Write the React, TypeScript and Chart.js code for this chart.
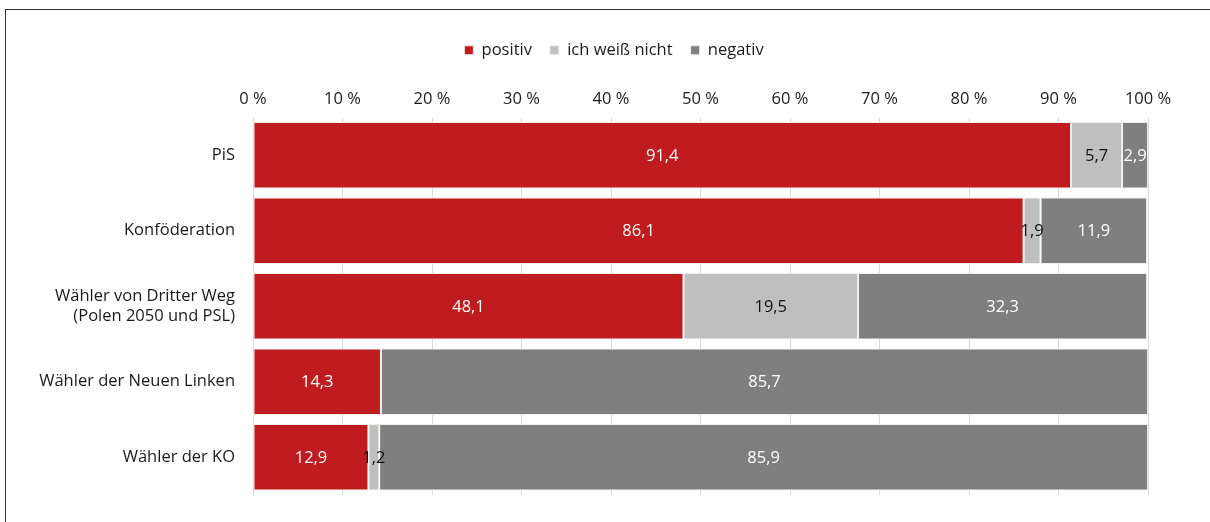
import React, { useEffect, useRef } from "react";
import { Chart, registerables } from "chart.js";

Chart.register(...registerables);

const categories: (string | string[])[] = [
  "PiS",
  "Konföderation",
  ["Wähler von Dritter Weg", "(Polen 2050 und PSL)"],
  "Wähler der Neuen Linken",
  "Wähler der KO",
];
const positiv = [91.4, 86.1, 48.1, 14.3, 12.9];
const weissNicht = [5.7, 1.9, 19.5, 0, 1.2];
const negativ = [2.9, 11.9, 32.3, 85.7, 85.9];
const seriesNames = ["positiv", "ich weiß nicht", "negativ"];
const xTicks = [0, 10, 20, 30, 40, 50, 60, 70, 80, 90, 100];

const RED = "#C01B1E";
const LIGHT = "#BFBFBF";
const DARK = "#7F7F7F";
const FONT = "'Open Sans', 'Noto Sans', sans-serif";
const FS = 16.5;

const labelPlugin = {
  id: "segLabels",
  afterLayout(chart: any) {
    const lg = chart.legend;
    if (lg) {
      lg.left += 40;
      lg.right += 40;
    }
  },
  afterDatasetsDraw(chart: any) {
    const ctx = chart.ctx;
    ctx.save();
    ctx.font = `${FS}px ${FONT}`;
    ctx.textAlign = "center";
    ctx.textBaseline = "middle";
    chart.data.datasets.forEach((ds: any, di: number) => {
      const meta = chart.getDatasetMeta(di);
      meta.data.forEach((bar: any, i: number) => {
        const v = ds.data[i];
        if (!v) return;
        const cx = (bar.x + bar.base) / 2;
        ctx.fillStyle = ds.labelColor;
        ctx.fillText(v.toFixed(1).replace(".", ","), cx, bar.y + 1);
      });
    });
    ctx.restore();
  },
};

export default function App() {
  const ref = useRef<HTMLCanvasElement | null>(null);
  useEffect(() => {
    document.body.style.margin = "0";
    const chart = new Chart(ref.current as HTMLCanvasElement, {
      type: "bar",
      data: {
        labels: categories,
        datasets: [
          { label: seriesNames[0], data: positiv, backgroundColor: RED, labelColor: "#FFFFFF" } as any,
          { label: seriesNames[1], data: weissNicht, backgroundColor: LIGHT, labelColor: "#111111" } as any,
          { label: seriesNames[2], data: negativ, backgroundColor: DARK, labelColor: "#FFFFFF" } as any,
        ].map((d: any) => ({
          ...d,
          borderColor: "#EFEFE8",
          borderWidth: 1,
          borderSkipped: false,
          barPercentage: 0.88,
          categoryPercentage: 1,
        })),
      },
      options: {
        indexAxis: "y",
        animation: false,
        responsive: false,
        maintainAspectRatio: false,
        layout: { padding: { top: 24, right: 62, bottom: 27, left: 0 } },
        plugins: {
          legend: {
            position: "top",
            labels: {
              boxWidth: 9,
              boxHeight: 9,
              padding: 18,
              color: "#1A1A1A",
              font: { family: FONT, size: FS },
            },
          },
          tooltip: { enabled: false },
        },
        scales: {
          x: {
            position: "top",
            stacked: true,
            min: 0,
            max: 100,
            afterBuildTicks(scale: any) {
              scale.ticks = xTicks.map((v) => ({ value: v }));
            },
            afterFit(scale: any) {
              scale.height = 49;
            },
            ticks: {
              callback: (v: any) => `${v} %`,
              color: "#1A1A1A",
              font: { family: FONT, size: FS },
              padding: 8,
              maxRotation: 0,
            },
            grid: { color: "#D9D9D9", lineWidth: 1, tickLength: 0, drawTicks: false },
            border: { display: false },
          },
          y: {
            stacked: true,
            afterFit(scale: any) {
              scale.width = 253;
            },
            ticks: {
              color: "#1A1A1A",
              font: { family: FONT, size: FS },
              padding: 10,
            },
            grid: { display: false },
            border: { display: false },
          },
        },
      },
      plugins: [labelPlugin],
    } as any);
    return () => chart.destroy();
  }, []);
  return (
    <div style={{ position: "relative", width: 1210, height: 522, overflow: "hidden", background: "#fff" }}>
      <canvas ref={ref} width={1210} height={522} style={{ position: "absolute", left: 0, top: 0, width: 1210, height: 522 }} />
      <div
        style={{
          position: "absolute",
          left: 5,
          top: 9,
          width: 1300,
          height: 600,
          borderLeft: "1.5px solid #333",
          borderTop: "1.5px solid #333",
          pointerEvents: "none",
        }}
      />
    </div>
  );
}
